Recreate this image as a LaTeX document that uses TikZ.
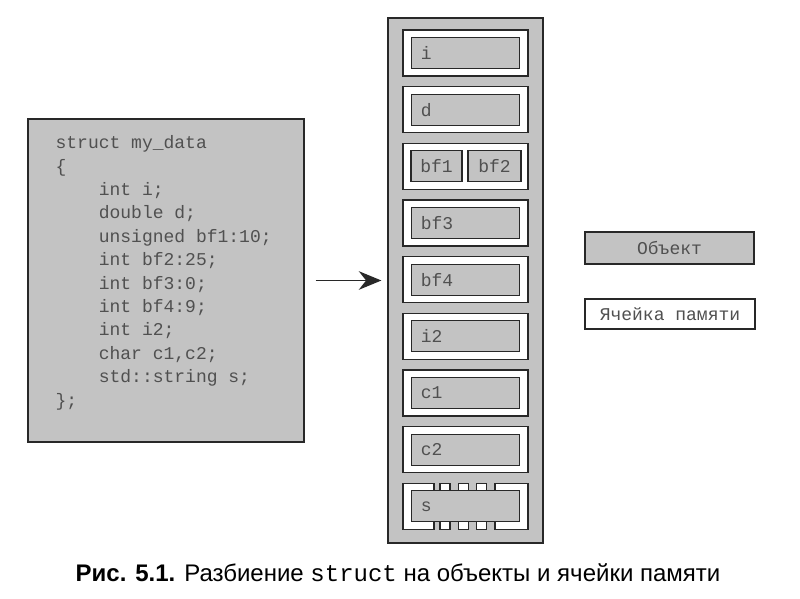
\documentclass[tikz,border=0pt]{standalone}
\usepackage{fontspec}
\setmainfont{Liberation Sans}
\setmonofont{Liberation Mono}
\newfontfamily\capfont{Liberation Sans}
\usetikzlibrary{arrows.meta,positioning}
\definecolor{objgray}{RGB}{195,195,195}
\definecolor{edgegray}{RGB}{40,40,40}
\definecolor{txtgray}{RGB}{80,80,80}

\begin{document}
\begin{tikzpicture}[x=0.75pt,y=-0.75pt,>={Stealth[length=17pt,width=14pt]},
    node distance=42.5pt,line width=0.9pt,
    codefont/.style={font=\fontsize{13.5}{17.55}\selectfont\ttfamily,text=txtgray},
    objbox/.style={draw=edgegray,fill=objgray},
    cellbox/.style={draw=edgegray,fill=white,minimum width=93.75pt,minimum height=34.5pt},
    field/.style={objbox,codefont,minimum height=23.25pt,text width=67pt,inner xsep=7pt,align=left},
    half field/.style={objbox,codefont,minimum height=23.25pt,inner sep=0pt},
    spad/.style={draw=edgegray,fill=white,minimum height=34.5pt,inner sep=0pt}]
    \useasboundingbox (0,0) rectangle (800,599);
    % source code
    \node[objbox,minimum width=207pt,minimum height=242.25pt] (code) at (166,280.5) {};
    \node[codefont,anchor=north west,inner sep=0pt,align=left] (src) at (55,135) {struct my\_data\\
        \{\\
        \hspace*{2.4em}int i;\\
        \hspace*{2.4em}double d;\\
        \hspace*{2.4em}unsigned bf1:10;\\
        \hspace*{2.4em}int bf2:25;\\
        \hspace*{2.4em}int bf3:0;\\
        \hspace*{2.4em}int bf4:9;\\
        \hspace*{2.4em}int i2;\\
        \hspace*{2.4em}char c1,c2;\\
        \hspace*{2.4em}std::string s;\\
        \};};
    % memory
    \node[objbox,minimum width=116.25pt,minimum height=393.75pt] (mem) at (465.5,280.5) {};
    \node[cellbox] (ci) at (465.5,53) {};
    \node[field] (i) at (ci) {i};
    \node[cellbox] (cd) [below of=ci] {};
    \node[field] (d) at (cd) {d};
    \node[cellbox] (cbf) [below of=cd] {};
    \node[half field,minimum width=38.25pt] (bf1) at ([xshift=-21.75pt]cbf) {bf1};
    \node[half field,minimum width=39.75pt] (bf2) at ([xshift=21.75pt]cbf) {bf2};
    \node[cellbox] (cbf3) [below of=cbf] {};
    \node[field] (bf3) at (cbf3) {bf3};
    \node[cellbox] (cbf4) [below of=cbf3] {};
    \node[field] (bf4) at (cbf4) {bf4};
    \node[cellbox] (ci2) [below of=cbf4] {};
    \node[field] (i2) at (ci2) {i2};
    \node[cellbox] (cc1) [below of=ci2] {};
    \node[field] (c1) at (cc1) {c1};
    \node[cellbox] (cc2) [below of=cc1] {};
    \node[field] (c2) at (cc2) {c2};
    \node[cellbox,draw=none,fill=none] (cs) [below of=cc2] {};
    \node[spad,minimum width=23.25pt] (sl) at ([xshift=-35.25pt]cs) {};
    \node[spad,minimum width=7.5pt] (sa) at ([xshift=-15.4pt]cs) {};
    \node[spad,minimum width=7.5pt] (sb) at ([xshift=-1.65pt]cs) {};
    \node[spad,minimum width=7.5pt] (sc) at ([xshift=12.15pt]cs) {};
    \node[spad,minimum width=24.75pt] (sr) at ([xshift=34.5pt]cs) {};
    \node[field] (s) at (cs) {s};
    \draw[->,edgegray,shorten <=8.25pt,shorten >=4.5pt] (code.east) -- (mem.west);
    % legend
    \node[objbox,codefont,minimum width=126.75pt,minimum height=24pt] (obj) at (669.5,248) {Объект};
    \node[draw=edgegray,fill=white,codefont,minimum width=127.5pt,minimum height=22.5pt] (mcell) at (670,314) {Ячейка памяти};
    % caption
    \node[anchor=base,font=\capfont\fontsize{18}{21}\selectfont] (caption) at (398,581)
        {\textbf{Рис. 5.1.} Разбиение {\ttfamily struct} на объекты и ячейки памяти};
\end{tikzpicture}
\end{document}
